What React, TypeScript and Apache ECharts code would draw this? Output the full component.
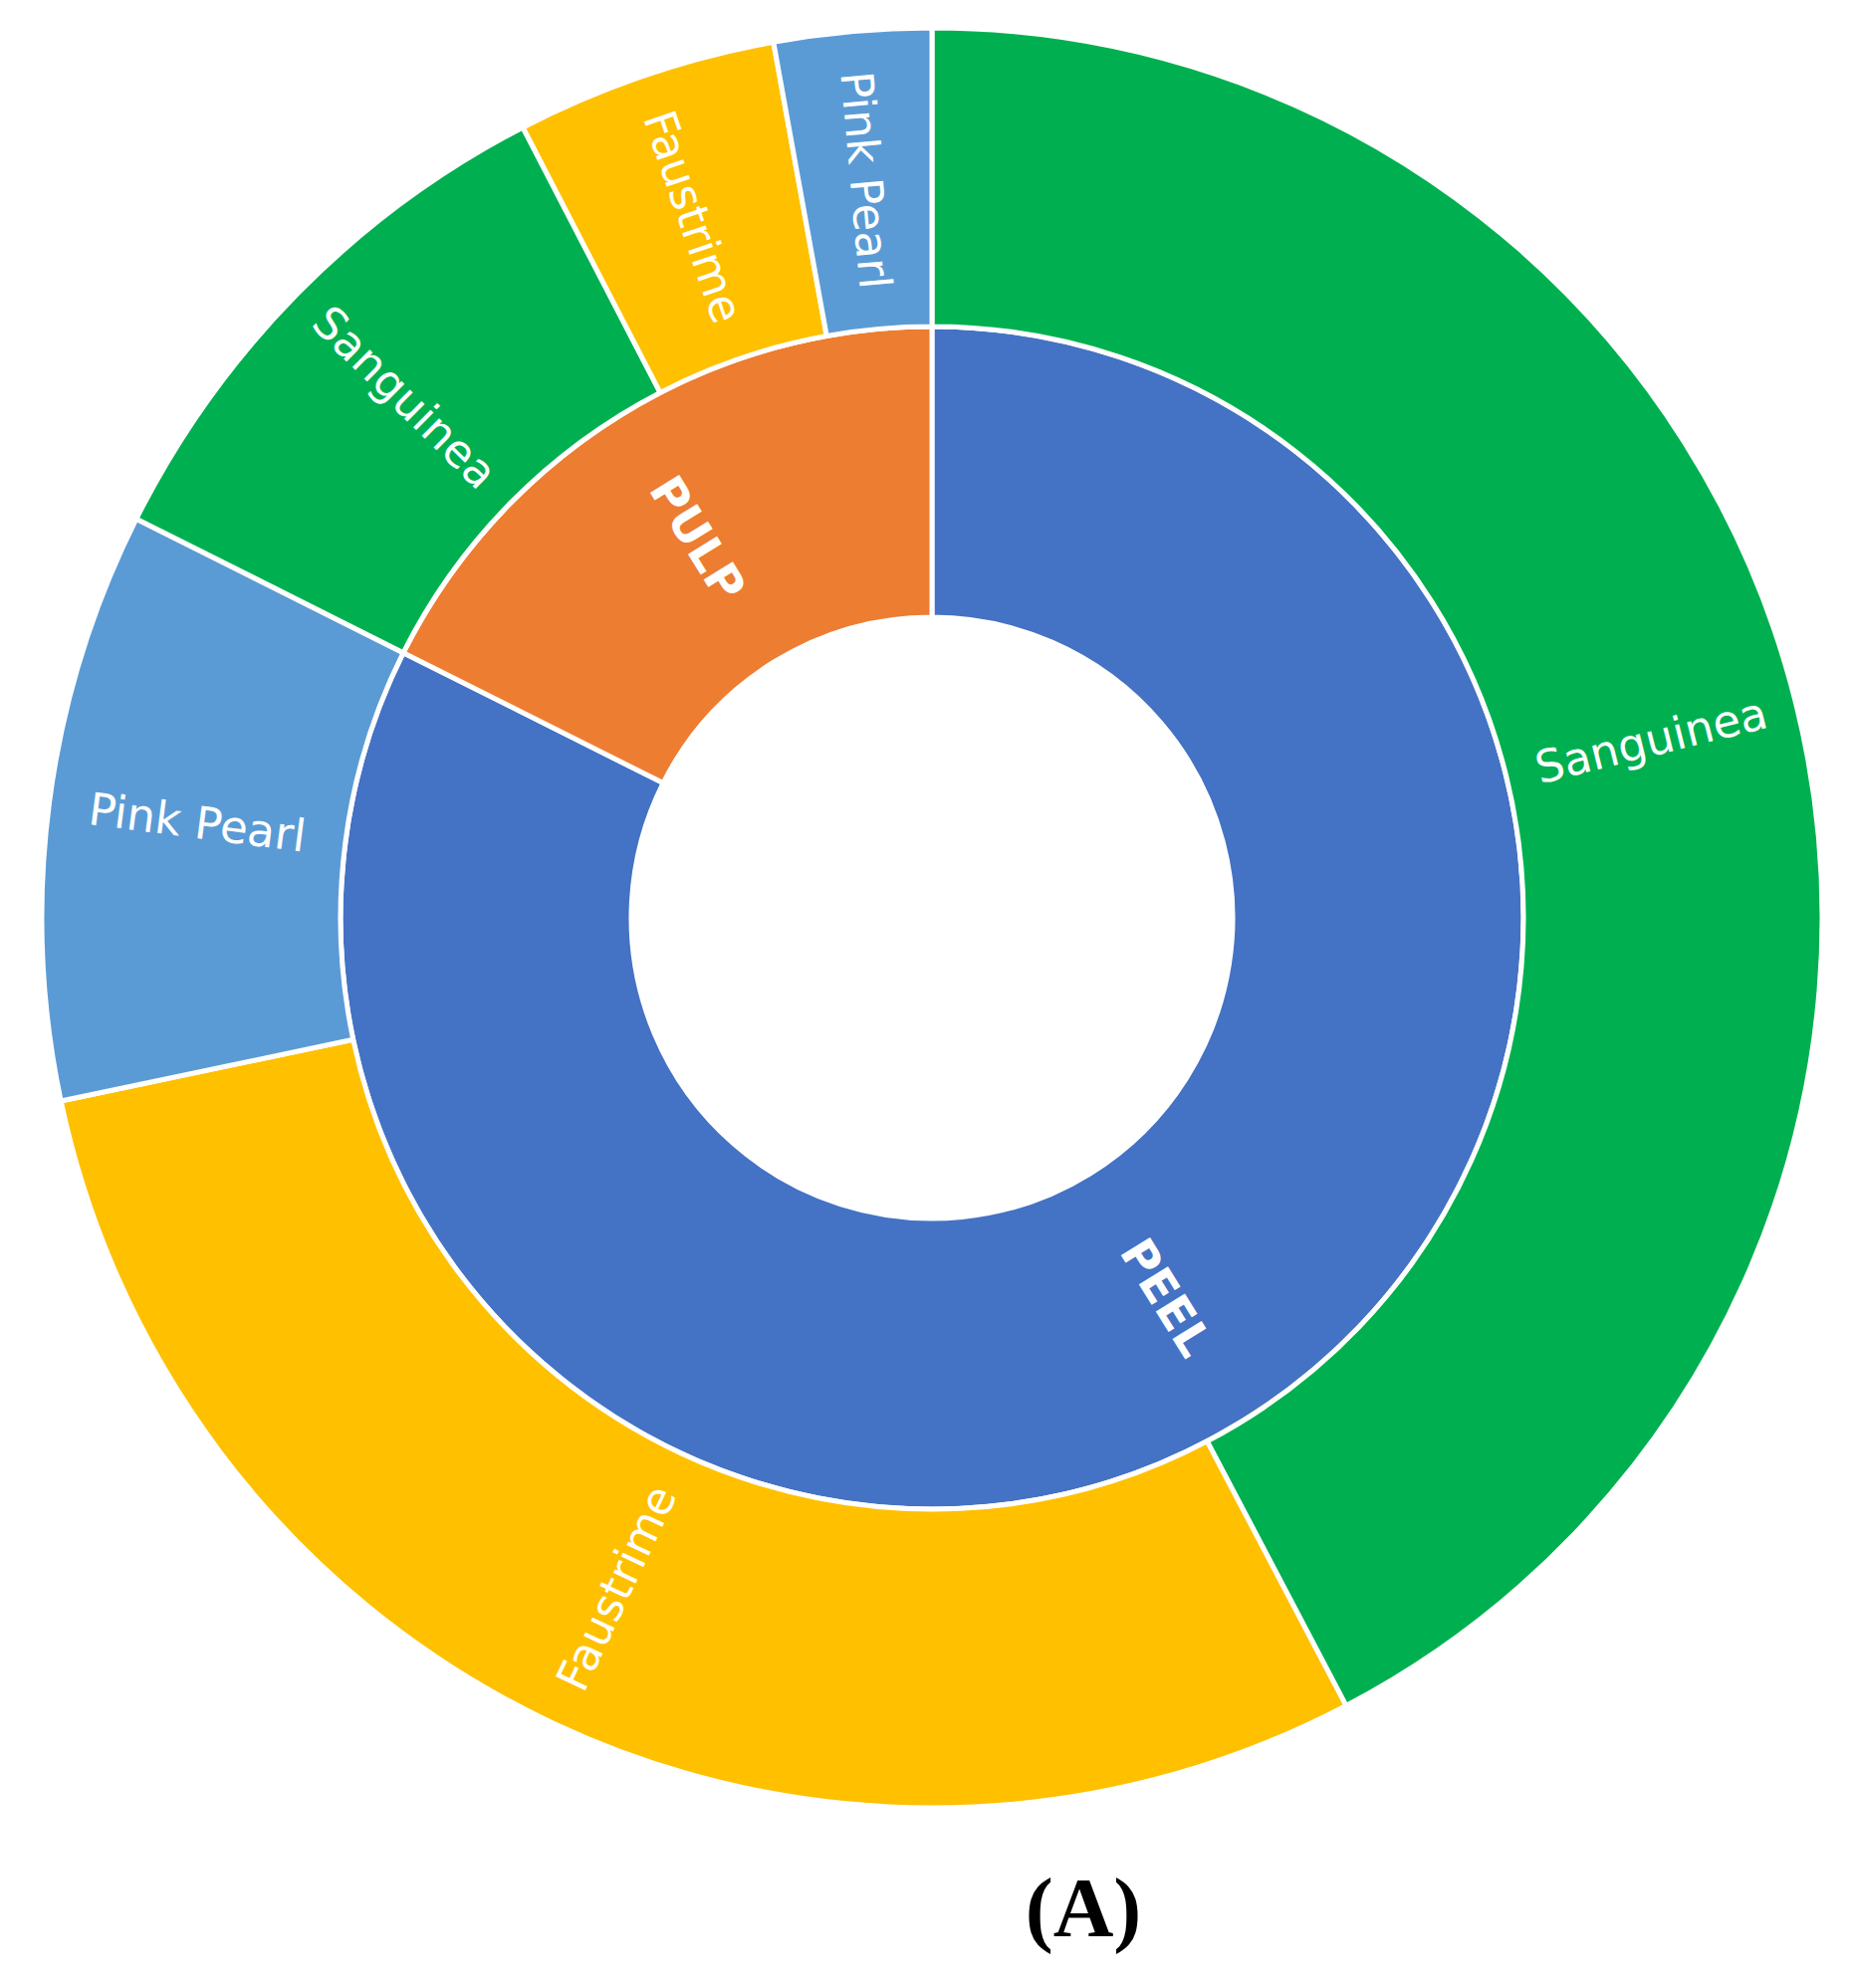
import React, { useEffect, useRef } from "react";
import * as echarts from "echarts";

const parts = ["PEEL", "PULP"];
const partColors = ["#4472C4", "#ED7D31"];
const varieties = ["Sanguinea", "Faustrime", "Pink Pearl"];
const varietyColors = ["#00B050", "#FFC000", "#5B9BD5"];
// share (%) of each variety inside each part
const peelValues = [42.3, 29.4, 10.7];
const pulpValues = [10.0, 4.75, 2.85];
const figureLabel = "(A)";

export default function App() {
  const ref = useRef<HTMLDivElement>(null);
  useEffect(() => {
    if (!ref.current) return;
    const chart = echarts.init(ref.current, undefined, { renderer: "svg" });
    const valueSets = [peelValues, pulpValues];
    const data = parts.map((p, pi) => ({
      name: p,
      itemStyle: { color: partColors[pi] },
      label: {
        fontWeight: "bold",
        fontSize: 47,
        fontFamily: "DejaVu Sans",
        color: "#ffffff",
      },
      children: varieties.map((v, vi) => ({
        name: v,
        value: valueSets[pi][vi],
        itemStyle: { color: varietyColors[vi] },
      })),
    }));
    chart.setOption({
      animation: false,
      series: [
        {
          type: "sunburst",
          center: [936, 922],
          radius: [302, 894],
          startAngle: 90,
          sort: null,
          nodeClick: false,
          emphasis: { disabled: true },
          itemStyle: { borderColor: "#ffffff", borderWidth: 5 },
          label: {
            rotate: "radial",
            color: "#ffffff",
            fontSize: 45,
            fontFamily: "DejaVu Sans",
            fontWeight: "normal",
          },
          levels: [
            {},
            { r0: 302, r: 594 },
            { r0: 594, r: 894 },
          ],
          data,
        },
      ],
      graphic: [
        {
          type: "text",
          x: 1088,
          y: 1916,
          style: {
            text: figureLabel,
            font: 'bold 84px "Liberation Serif"',
            fill: "#000000",
            align: "center",
            verticalAlign: "middle",
          },
        },
      ],
    });
    return () => chart.dispose();
  }, []);
  return (
    <div
      ref={ref}
      style={{ position: "absolute", left: 0, top: 0, width: 1865, height: 1997 }}
    />
  );
}
